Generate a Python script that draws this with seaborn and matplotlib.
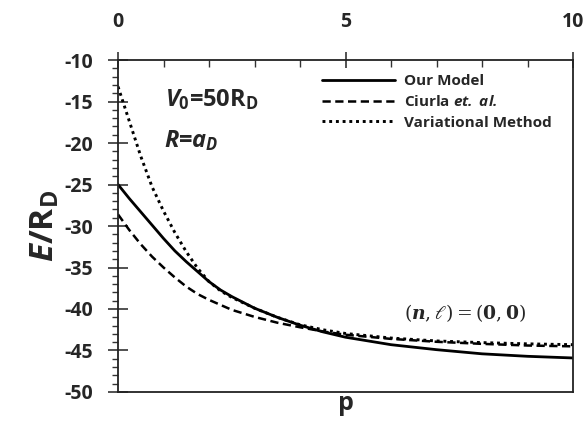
import numpy as np
import pandas as pd
import matplotlib
matplotlib.use("Agg")
import matplotlib.pyplot as plt
import seaborn as sns
from matplotlib.ticker import MultipleLocator

# ---- data ----
p = [0, 0.25, 0.5, 0.75, 1, 1.25, 1.5, 1.75, 2, 2.25, 2.5, 3, 3.5, 4, 4.5,
     5, 6, 7, 8, 9, 10]
our_model = [-25.0, -26.7, -28.3, -29.9, -31.5, -33.0, -34.3, -35.5, -36.7,
             -37.7, -38.5, -39.9, -41.0, -41.95, -42.75, -43.4, -44.3,
             -44.9, -45.4, -45.7, -45.9]
ciurla = [-28.6, -30.5, -32.2, -33.7, -35.0, -36.2, -37.3, -38.2, -38.9,
          -39.5, -40.1, -40.95, -41.65, -42.2, -42.7, -43.1, -43.6,
          -43.95, -44.2, -44.4, -44.5]
variational = [-13.2, -17.4, -21.6, -25.3, -28.2, -30.8, -33.1, -35.1, -36.7,
               -37.8, -38.6, -39.9, -41.0, -41.9, -42.5, -42.95, -43.5,
               -43.85, -44.05, -44.2, -44.3]
labels = ["Our Model", "Ciurla $\\mathbfit{et.}$ $\\mathbfit{al.}$", "Variational Method"]
x_ticks = [0, 5, 10]
y_ticks = [-10, -15, -20, -25, -30, -35, -40, -45, -50]

sns.set_theme(style="white")
plt.rcParams["font.family"] = ["Open Sans", "DejaVu Sans"]
plt.rcParams["axes.unicode_minus"] = False
plt.rcParams["mathtext.fontset"] = "custom"
plt.rcParams["mathtext.rm"] = "Open Sans:bold"
plt.rcParams["mathtext.it"] = "Open Sans:bold:italic"
plt.rcParams["mathtext.bf"] = "Open Sans:bold"
plt.rcParams["mathtext.bfit"] = "Open Sans:bold:italic"

fig = plt.figure(figsize=(5.88, 4.22), dpi=100)
ax = fig.add_axes([0.2007, 0.0711, 0.7738, 0.7867])

series = [our_model, ciurla, variational]
styles = [dict(ls="-", lw=2.0), dict(ls=(0, (3.3, 1.8)), lw=1.8), dict(ls=(0, (1, 1.3)), lw=2.1)]
for vals, lab, st in zip(series, labels, styles):
    sns.lineplot(x=p, y=vals, ax=ax, color="black", label=lab,
                 linestyle=st["ls"], linewidth=st["lw"], estimator=None, sort=False)

ax.set_xlim(0, 10)
ax.set_ylim(-50, -10)
ax.xaxis.tick_top()
ax.set_xticks(x_ticks)
ax.xaxis.set_minor_locator(MultipleLocator(1))
ax.set_yticks(y_ticks)
ax.yaxis.set_minor_locator(MultipleLocator(1))

for s in ax.spines.values():
    s.set_color("#222222")
    s.set_linewidth(1.3)

ax.tick_params(axis="x", which="major", direction="inout", length=11, width=1.2,
               color="#333333", labelsize=14, pad=15, top=True, bottom=False)
ax.tick_params(axis="x", which="minor", direction="in", length=5, width=1.0,
               color="#333333", top=True, bottom=False)
ax.tick_params(axis="y", which="major", direction="inout", length=14, width=1.2,
               color="#333333", labelsize=14, pad=11, left=True)
ax.tick_params(axis="y", which="minor", direction="out", length=4.5, width=1.0,
               color="#333333", left=True)
for lbl in ax.get_xticklabels() + ax.get_yticklabels():
    lbl.set_fontweight("bold")

ax.set_xlabel("p", fontsize=18, fontweight="bold", labelpad=-1)
ax.xaxis.set_label_position("bottom")
ax.set_ylabel(r"$\mathit{E}$/R$_\mathrm{D}$", fontsize=24, fontweight="bold", labelpad=2)

ax.text(0.103, 0.918, r"$\mathit{V}_\mathrm{0}$=50R$_\mathrm{D}$", transform=ax.transAxes,
        fontsize=17, fontweight="bold", va="top", ha="left")
ax.text(0.100, 0.795, r"$\mathit{R}$=$\mathit{a}_\mathit{D}$", transform=ax.transAxes,
        fontsize=17, fontweight="bold", va="top", ha="left")

ax.text(0.763, 0.238, r"$(\mathbfit{n},\ell)=(\mathbf{0},\mathbf{0})$", transform=ax.transAxes,
        fontsize=13.5, ha="center", va="center", family="DejaVu Serif",
        math_fontfamily="dejavuserif")

leg = ax.legend(loc="upper left", bbox_to_anchor=(0.448, 0.958), frameon=False,
                prop={"weight": "bold", "size": 11}, handlelength=4.8,
                handletextpad=0.6, labelspacing=0.42, borderpad=0,
                borderaxespad=0)

fig.savefig("out.png", dpi=100)
